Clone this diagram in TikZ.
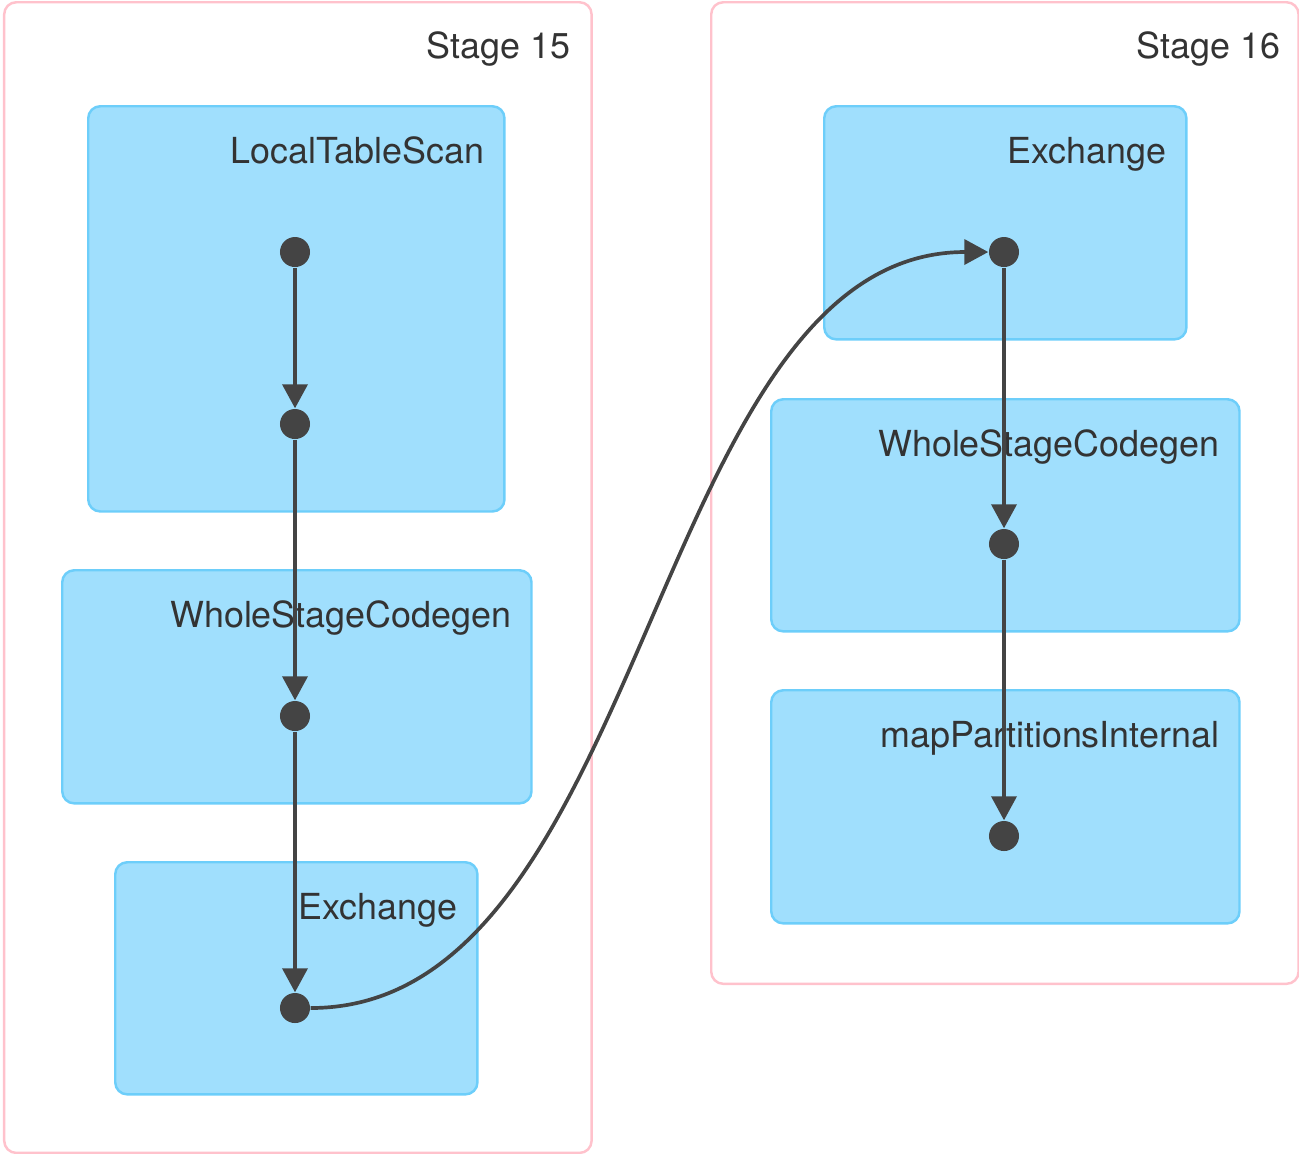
\documentclass[tikz,border=0pt]{standalone}
\usepackage{fontspec}
\setmainfont{TeX Gyre Heros}
\usepackage{tikz}
\usetikzlibrary{arrows.meta, positioning, calc}
\definecolor{StagePink}{HTML}{FFC2CC}
\definecolor{OpFill}{HTML}{A0DFFD}
\definecolor{OpBorder}{HTML}{6DCEFA}
\definecolor{EdgeDark}{HTML}{444444}
\definecolor{LabelDark}{HTML}{333333}

\begin{document}
\begin{tikzpicture}[
    x=0.01cm, y=-0.01cm,
    stage/.style={draw=StagePink, line width=0.7pt, rounded corners=0.12cm, anchor=north west, inner sep=0pt},
    op/.style={draw=OpBorder, fill=OpFill, line width=0.7pt, rounded corners=0.12cm, anchor=north west, inner sep=0pt},
    lbl/.style={font=\fontsize{10.2}{12}\selectfont, text=LabelDark, anchor=base east, inner sep=0pt},
    dot/.style={circle, fill=EdgeDark, minimum size=0.3cm, inner sep=0pt},
    edge/.style={draw=EdgeDark, line width=1.05pt, -{Triangle[length=0.24cm, width=0.25cm]}}
]
\useasboundingbox (0,0) rectangle (1299,1153);

% Stages
\node[stage, minimum width=5.87cm, minimum height=11.50cm] (s15) at (3,1) {};
\node[stage, minimum width=5.87cm, minimum height=9.81cm] (s16) at (710,1) {};
\node[lbl] (s15-l) at ([xshift=-0.22cm, yshift=-0.57cm]s15.north east) {Stage 15};
\node[lbl] (s16-l) at ([xshift=-0.19cm, yshift=-0.57cm]s16.north east) {Stage 16};

% Operators in stage 15
\node[op, minimum width=4.16cm, minimum height=4.05cm] (lts) at (87,105) {};
\node[op, minimum width=4.69cm, minimum height=2.33cm] (wsc15) at (61,569) {};
\node[op, minimum width=3.62cm, minimum height=2.32cm] (ex15) at (114,861) {};

% Operators in stage 16
\node[op, minimum width=3.62cm, minimum height=2.33cm] (ex16) at (823,105) {};
\node[op, minimum width=4.68cm, minimum height=2.32cm] (wsc16) at (770,398) {};
\node[op, minimum width=4.68cm, minimum height=2.33cm] (mpi) at (770,689) {};

% Operator labels
\foreach \b/\t in {lts/LocalTableScan, wsc15/WholeStageCodegen, ex15/Exchange,
                   ex16/Exchange, wsc16/WholeStageCodegen, mpi/mapPartitionsInternal}
    \node[lbl] (\b-l) at ([xshift=-0.21cm, yshift=-0.58cm]\b.north east) {\t};

% Dots
\foreach \n/\x/\y in {1/295/252, 2/295/424, 3/295/716, 4/295/1008,
                      5/1004/252, 6/1004/544, 7/1004/836}
    \node[dot] (d\n) at (\x,\y) {};

% Edges
\foreach \a/\b in {1/2, 2/3, 3/4, 5/6, 6/7}
    \draw[edge] (d\a) -- (d\b);
\draw[edge] (d4) .. controls +(354,0) and +(-354,0) .. (d5);
\end{tikzpicture}
\end{document}
